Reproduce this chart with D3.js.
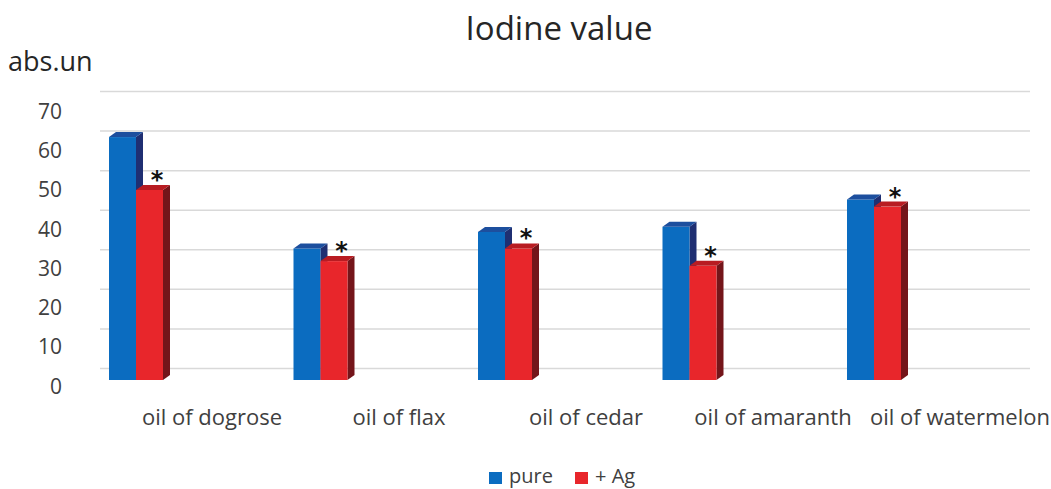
<!DOCTYPE html>
<html>
<head>
<meta charset="utf-8">
<script src="https://cdn.jsdelivr.net/npm/d3@7"></script>
<style>
  body { margin: 0; background: #fff; }
  svg text { font-family: "Open Sans", "Liberation Sans", sans-serif; }
</style>
</head>
<body>
<div id="content"></div>
<script>
// chart data
var categories = ["oil of dogrose", "oil of flax", "oil of cedar", "oil of amaranth", "oil of watermelon"];
var pureValues = [61.5, 33.3, 37.5, 38.8, 45.7];
var agValues = [48.1, 30.1, 33.3, 28.9, 43.9];
var seriesNames = ["pure", "+ Ag"];
var yTicks = [0, 10, 20, 30, 40, 50, 60, 70];

var width = 1051,
    height = 489;

// 3d look: depth offset of each bar
var dx = 7, dy = 5;
var barW = 27;

var svg = d3.select("#content")
    .append("svg")
    .attr("width", width)
    .attr("height", height);

// x band for each group of two bars
var x = d3.scaleBand()
    .domain(categories)
    .range([109, 109 + 5 * 184.5]);

// category labels sit a bit off the bars (perspective)
var xLab = d3.scalePoint()
    .domain(categories)
    .range([212, 960]);

// front face of bars
var y = d3.scaleLinear().domain([0, 70]).range([380, 103.5]);
// back wall gridlines
var yGrid = d3.scaleLinear().domain([0, 70]).range([368.5, 91.5]);
// labels on the left wall
var yLab = d3.scaleLinear().domain([0, 70]).range([386.5, 111.5]);

// title
svg.append("text")
    .attr("x", 559)
    .attr("y", 40)
    .attr("text-anchor", "middle")
    .attr("fill", "#262626")
    .style("font-size", "33px")
    .text("Iodine value");

svg.append("text")
    .attr("x", 8)
    .attr("y", 71)
    .attr("fill", "#262626")
    .style("font-size", "27px")
    .text("abs.un");

// gridlines
svg.append("g")
    .selectAll("line")
    .data(yTicks)
    .enter()
    .append("line")
    .attr("x1", 100)
    .attr("x2", 1030)
    .attr("y1", d => yGrid(d))
    .attr("y2", d => yGrid(d))
    .attr("stroke", "#d9d9d9")
    .attr("stroke-width", 1.5);

// y axis labels
var yAxis = svg.append("g")
    .attr("transform", "translate(62,0)")
    .call(d3.axisLeft(yLab).tickValues(yTicks).tickSize(0).tickPadding(0));
yAxis.select(".domain").remove();
yAxis.selectAll("text")
    .attr("fill", "#404040")
    .style("font-size", "21px");

function drawBar(g, x0, v, front, side, top) {
    var yt = y(v), yb = y(0);
    // side face
    g.append("path")
        .attr("d", "M" + (x0 + barW) + "," + yb + "L" + (x0 + barW + dx) + "," + (yb - dy) +
            "L" + (x0 + barW + dx) + "," + (yt - dy) + "L" + (x0 + barW) + "," + yt + "Z")
        .attr("fill", side);
    // front face
    g.append("rect")
        .attr("x", x0)
        .attr("y", yt)
        .attr("width", barW)
        .attr("height", yb - yt)
        .attr("fill", front);
    // top face
    g.append("path")
        .attr("d", "M" + x0 + "," + yt + "L" + (x0 + dx) + "," + (yt - dy) +
            "L" + (x0 + barW + dx) + "," + (yt - dy) + "L" + (x0 + barW) + "," + yt + "Z")
        .attr("fill", top);
}

var bars = svg.append("g");
categories.forEach(function (c, i) {
    var x0 = x(c);
    drawBar(bars, x0, pureValues[i], "#0b6cc0", "#1f2f72", "#1d4f9e");
    drawBar(bars, x0 + barW, agValues[i], "#e8262b", "#74151a", "#b81c22");
    // significance mark
    bars.append("text")
        .attr("x", x0 + barW + 21)
        .attr("y", y(agValues[i]) - 2)
        .attr("text-anchor", "middle")
        .attr("fill", "#111")
        .style("font-size", "24px")
        .style("font-weight", "bold")
        .style("font-family", "DejaVu Sans")
        .text("*");
});

// category labels
svg.append("g")
    .selectAll("text")
    .data(categories)
    .enter()
    .append("text")
    .attr("x", d => xLab(d))
    .attr("y", 425)
    .attr("text-anchor", "middle")
    .attr("fill", "#404040")
    .style("font-size", "22px")
    .text(d => d);

// legend
var legendX = [489, 575];
var legendColors = ["#0b6cc0", "#e8262b"];
var legend = svg.append("g");
seriesNames.forEach(function (s, i) {
    legend.append("rect")
        .attr("x", legendX[i])
        .attr("y", 472)
        .attr("width", 13)
        .attr("height", 12)
        .attr("fill", legendColors[i]);
    legend.append("text")
        .attr("x", legendX[i] + 20)
        .attr("y", 483)
        .attr("fill", "#404040")
        .style("font-size", "20px")
        .text(s);
});
</script>
</body>
</html>
